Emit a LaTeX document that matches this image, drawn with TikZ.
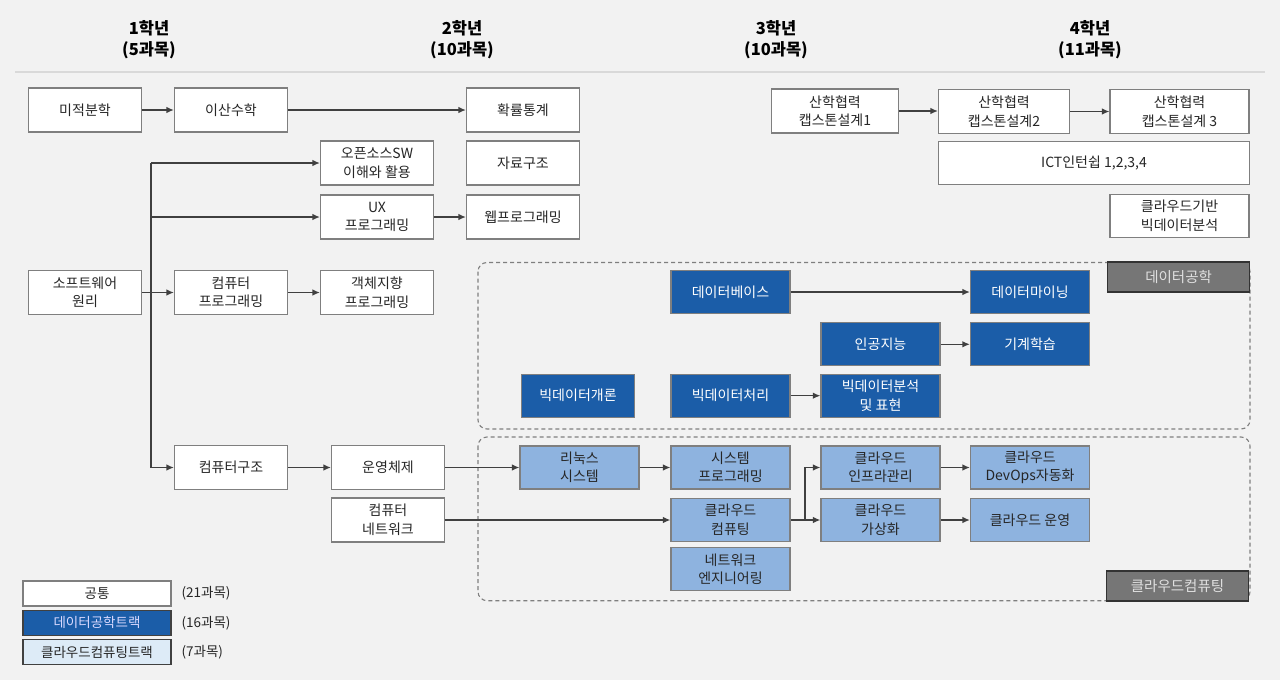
\documentclass[tikz,border=0pt]{standalone}
\usepackage{fontspec}
\setmainfont{Noto Sans CJK KR}
\usetikzlibrary{arrows.meta}
\definecolor{bg}{HTML}{F2F2F2}
\definecolor{dblue}{HTML}{1B5DA8}
\definecolor{lblue}{HTML}{8EB3DF}
\definecolor{bord}{HTML}{7F7F7F}
\definecolor{lnk}{HTML}{404040}
\definecolor{txt}{HTML}{262626}
\definecolor{tag}{HTML}{767676}
\definecolor{hline}{HTML}{D9D9D9}
\definecolor{legc}{HTML}{DDEBF7}
\tikzset{
  box/.style={draw=bord, line width=1.2pt, minimum width=113pt, minimum height=44pt,
    inner sep=1pt, align=center, font=\fontsize{14}{18.5}\selectfont, text=txt},
  cbox/.style={box, fill=white},
  dbox/.style={box, fill=dblue, text=white, minimum width=119pt, minimum height=43pt},
  lbox/.style={box, fill=lblue, minimum width=119pt, minimum height=43pt},
  arr/.style={draw=lnk, line width=1.3pt, -{Latex[length=7.5pt,width=6.5pt]}},
  ln/.style={draw=lnk, line width=1.3pt},
  track/.style={draw=bord, line width=1.1pt, dash pattern=on 4pt off 3pt, rounded corners=9pt},
  tagbox/.style={draw=black!80, line width=1.6pt, fill=tag, text=white!88!black,
    font=\fontsize{14.5}{16}\selectfont, minimum width=142pt, minimum height=30pt, inner sep=0pt},
  hdr/.style={font=\bfseries\fontsize{16.5}{21}\selectfont, text=black, align=center},
  leg/.style={draw=bord, line width=1.2pt, minimum width=148pt, minimum height=25pt,
    inner sep=0pt, font=\fontsize{13.5}{15}\selectfont},
  legt/.style={anchor=west, font=\fontsize{13.5}{15}\selectfont, text=txt}
}
\begin{document}
\begin{tikzpicture}[x=1pt,y=-1pt]
\useasboundingbox (0,0) rectangle (1280,680);
\fill[bg] (0,0) rectangle (1280,680);

% headers
\node[hdr] (h1) at (149,40) {1학년\\(5과목)};
\node[hdr] (h2) at (462,40) {2학년\\(10과목)};
\node[hdr] (h3) at (776,40) {3학년\\(10과목)};
\node[hdr] (h4) at (1090,40) {4학년\\(11과목)};
\coordinate (hl) at (15,72);
\coordinate (hr) at (1265,72);
\draw[hline, line width=1.5pt] (hl) -- (hr);

% track areas
\draw[track] (478,262.5) rectangle (1250,429);
\draw[track] (478,437) rectangle (1250,600.7);
\node[tagbox] (tg1) at (1178.6,277) {데이터공학};
\node[tagbox] (tg2) at (1177.5,585.7) {클라우드컴퓨팅};

% common subjects
\node[cbox] (a1) at (85,110) {미적분학};
\node[cbox] (a2) at (231,110) {이산수학};
\node[cbox] (a3) at (523,110) {확률통계};
\node[cbox] (b1) at (377,163) {오픈소스SW\\이해와 활용};
\node[cbox] (b2) at (523,163) {자료구조};
\node[cbox] (c1) at (377,217) {UX\\프로그래밍};
\node[cbox] (c2) at (523,217) {웹프로그래밍};
\node[cbox] (d0) at (85,292.5) {소프트웨어\\원리};
\node[cbox] (d1) at (231,292.5) {컴퓨터\\프로그래밍};
\node[cbox] (d2) at (377,292.5) {객체지향\\프로그래밍};
\node[cbox] (e1) at (231,467.5) {컴퓨터구조};
\node[cbox] (e2) at (388,467.5) {운영체제};
\node[cbox] (f2) at (388,520) {컴퓨터\\네트워크};
\node[cbox, minimum width=127pt] (g1) at (835,111) {산학협력\\캡스톤설계1};
\node[cbox, minimum width=131pt] (g2) at (1004,111.5) {산학협력\\캡스톤설계2};
\node[cbox, minimum width=139pt] (g3) at (1179.5,111.5) {산학협력\\캡스톤설계 3};
\node[cbox, minimum width=311pt, minimum height=43pt] (ict) at (1094,163.3) {ICT인턴쉽 1,2,3,4};
\node[cbox, minimum width=139pt, minimum height=43pt] (cbd) at (1179.5,215.7) {클라우드기반\\빅데이터분석};

% data track
\node[dbox] (db) at (730.5,292) {데이터베이스};
\node[dbox] (dm) at (1030,292) {데이터마이닝};
\node[dbox] (ai) at (880.5,344.3) {인공지능};
\node[dbox] (ml) at (1030,344.3) {기계학습};
\node[dbox, minimum width=112.5pt] (bdi) at (578,395.7) {빅데이터개론};
\node[dbox] (bdp) at (730.5,395.7) {빅데이터처리};
\node[dbox] (bda) at (880.5,395.7) {빅데이터분석\\및 표현};

% cloud track
\node[lbox] (lx) at (579.5,467.5) {리눅스\\시스템};
\node[lbox] (sp) at (730.5,467.5) {시스템\\프로그래밍};
\node[lbox] (ci) at (880.5,467.5) {클라우드\\인프라관리};
\node[lbox] (cd) at (1030,467.5) {클라우드\\DevOps자동화};
\node[lbox] (cc) at (730.5,520) {클라우드\\컴퓨팅};
\node[lbox] (cv) at (880.5,520) {클라우드\\가상화};
\node[lbox] (co) at (1030,520) {클라우드 운영};
\node[lbox] (ne) at (730.5,569.3) {네트워크\\엔지니어링};

% connectors
\draw[arr] (a1) -- (a2);
\draw[arr] (a2) -- (a3);
\draw[arr] (d0) -- (d1);
\draw[arr] (d1) -- (d2);
\draw[arr] (c1) -- (c2);
\coordinate (bt) at (151,163);
\coordinate (bb) at (151,467.5);
\draw[ln] (bt) -- (bb);
\draw[arr] (bt) -- (b1.west);
\draw[arr] (bt |- c1.west) -- (c1.west);
\draw[arr] (bb) -- (e1.west);
\draw[arr] (e1) -- (e2);
\draw[arr] (e2) -- (lx);
\draw[arr] (f2) -- (cc);
\draw[arr] (lx) -- (sp);
\coordinate (cs) at (805,520);
\draw[arr] (cc) -- (cv);
\draw[arr] (cs) |- (ci.west);
\draw[arr] (ci) -- (cd);
\draw[arr] (cv) -- (co);
\draw[arr] (db) -- (dm);
\draw[arr] (ai) -- (ml);
\draw[arr] (bdp) -- (bda);
\draw[arr] (g1.east) -- (g1.east -| g2.west);
\draw[arr] (g2) -- (g3);

% legend
\node[leg, fill=white, text=txt] (l1) at (97,593.5) {공통};
\node[leg, fill=dblue, draw=black!75, text=white!85!blue] (l2) at (97,622.8) {데이터공학트랙};
\node[leg, fill=legc, draw=black!75, text=txt] (l3) at (97,652) {클라우드컴퓨팅트랙};
\node[legt] (t1) at (178,593.5) {(21과목)};
\node[legt] (t2) at (178,622.8) {(16과목)};
\node[legt] (t3) at (178,652) {(7과목)};
\end{tikzpicture}
\end{document}
